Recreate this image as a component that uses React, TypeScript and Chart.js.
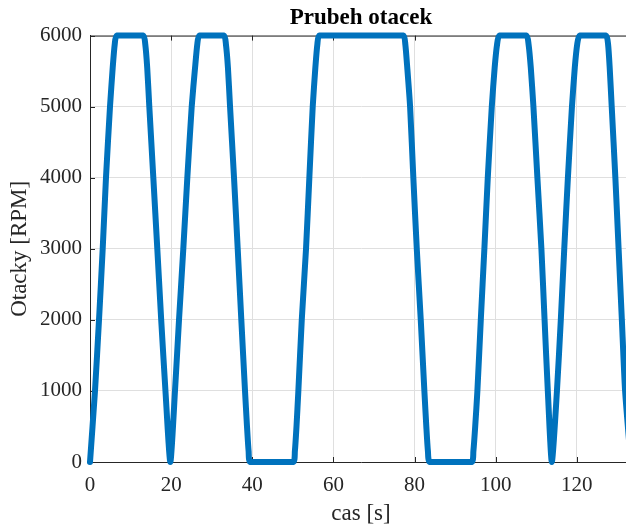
import React, { useEffect, useRef } from 'react';
import { Chart, registerables } from 'chart.js';

Chart.register(...registerables);

const timeS = [
  0, 1.23, 2.22, 3.13, 3.94, 4.93, 5.6, 6.1, 6.58,
  13.14, 13.62, 14.1, 14.62, 15.61, 16.59, 17.55, 18.6, 19.8,
  20.95, 21.94, 23.0, 23.99, 25.07, 25.9, 26.45, 26.95,
  33.04, 33.5, 34.0, 34.52, 35.5, 36.41, 37.3, 38.21, 38.7, 39.1, 39.5,
  50.1, 50.5, 50.9, 51.36, 52.2, 53.25, 54.07, 54.9, 55.55, 56.05, 56.53,
  77.24, 77.72, 78.2, 78.9, 79.7, 80.55, 81.53, 82.42, 82.9, 83.3, 83.75,
  94.1, 94.5, 94.95, 95.49, 96.33, 97.21, 98.05, 99.04, 99.75, 100.35, 100.9,
  107.6, 108.1, 108.65, 109.3, 110.28, 111.27, 112.05, 112.85, 113.84,
  115.1, 116.05, 116.9, 117.8, 118.8, 119.5, 120.1, 120.7,
  127.2, 127.7, 128.1, 128.6, 129.5, 130.3, 131.1, 131.9, 133.3,
];
const rpm = [
  0, 1000, 2000, 3000, 4000, 5000, 5550, 5880, 6000,
  6000, 5880, 5550, 5000, 4000, 3000, 2000, 1000, 0,
  1000, 2000, 3000, 4000, 5000, 5550, 5880, 6000,
  6000, 5880, 5550, 5000, 4000, 3000, 2000, 1000, 500, 150, 0,
  0, 150, 500, 1000, 2000, 3000, 4000, 5000, 5550, 5880, 6000,
  6000, 5880, 5550, 5000, 4000, 3000, 2000, 1000, 500, 150, 0,
  0, 150, 500, 1000, 2000, 3000, 4000, 5000, 5550, 5880, 6000,
  6000, 5880, 5550, 5000, 4000, 3000, 2000, 1000, 0,
  1000, 2000, 3000, 4000, 5000, 5550, 5880, 6000,
  6000, 5880, 5550, 5000, 4000, 3000, 2000, 1000, 0,
];
const xTicks = [0, 20, 40, 60, 80, 100, 120];
const yTicks = [0, 1000, 2000, 3000, 4000, 5000, 6000];
const titleText = 'Prubeh otacek';
const xLabel = 'cas [s]';
const yLabel = 'Otacky [RPM]';

const AXIS = '#262626';
const GRID = '#dfdfdf';
const LINE = '#0072BD';
const FONT = "'Liberation Serif', 'Times New Roman', serif";

const boxPlugin = {
  id: 'matlabBox',
  beforeDatasetsDraw(chart: any) {
    const { ctx, chartArea, scales } = chart;
    const { left, right, top, bottom } = chartArea;
    ctx.save();
    ctx.strokeStyle = AXIS;
    ctx.lineWidth = 1;
    ctx.beginPath();
    ctx.moveTo(left, top + 0.5);
    ctx.lineTo(right, top + 0.5);
    const tl = 5;
    for (const v of xTicks) {
      const px = Math.round(scales.x.getPixelForValue(v)) + 0.5;
      ctx.moveTo(px, bottom);
      ctx.lineTo(px, bottom - tl);
      ctx.moveTo(px, top);
      ctx.lineTo(px, top + tl);
    }
    for (const v of yTicks) {
      const py = Math.round(scales.y.getPixelForValue(v)) + 0.5;
      ctx.moveTo(left, py);
      ctx.lineTo(left + tl, py);
    }
    ctx.stroke();
    ctx.restore();
  },
};

export default function App() {
  const ref = useRef<HTMLCanvasElement | null>(null);

  useEffect(() => {
    if (!ref.current) return;
    const points = timeS.map((t, i) => ({ x: t, y: rpm[i] }));
    const chart = new Chart(ref.current, {
      type: 'line',
      data: {
        datasets: [
          {
            data: points,
            borderColor: LINE,
            backgroundColor: LINE,
            borderWidth: 6,
            pointRadius: 0,
            tension: 0.2,
            borderJoinStyle: 'round',
            borderCapStyle: 'round',
            clip: 5,
          } as any,
        ],
      },
      options: {
        animation: false,
        responsive: false,
        maintainAspectRatio: false,
        layout: { padding: 0 },
        plugins: {
          legend: { display: false },
          tooltip: { enabled: false },
          title: {
            display: true,
            text: titleText,
            fullSize: false,
            color: '#000',
            font: { family: FONT, size: 23, weight: 'bold', lineHeight: 1.2 },
            padding: { top: 4, bottom: 4 },
          },
        },
        scales: {
          x: {
            type: 'linear',
            min: 0,
            max: 133.6,
            afterFit: (s: any) => {
              s.height = 63;
            },
            afterBuildTicks: (s: any) => {
              s.ticks = xTicks.map((v) => ({ value: v }));
            },
            grid: { color: GRID, drawTicks: false, lineWidth: 1 },
            border: { display: true, color: AXIS, width: 1 },
            ticks: {
              color: AXIS,
              padding: 11,
              maxRotation: 0,
              font: { family: FONT, size: 21, lineHeight: 1.2 },
              callback: (v: any) => String(v),
            },
            title: {
              display: true,
              text: xLabel,
              color: AXIS,
              font: { family: FONT, size: 23, lineHeight: 1.0 },
              padding: { top: 0, bottom: 0 },
            },
          },
          y: {
            type: 'linear',
            min: 0,
            max: 6000,
            afterFit: (s: any) => {
              s.width = 90;
            },
            afterBuildTicks: (s: any) => {
              s.ticks = yTicks.map((v) => ({ value: v }));
            },
            grid: { color: GRID, drawTicks: false, lineWidth: 1 },
            border: { display: true, color: AXIS, width: 1 },
            ticks: {
              color: AXIS,
              padding: 8,
              font: { family: FONT, size: 21, lineHeight: 1.2 },
              callback: (v: any) => String(v),
            },
            title: {
              display: true,
              text: yLabel,
              color: AXIS,
              font: { family: FONT, size: 23, lineHeight: 1.2 },
              padding: { top: 6, bottom: 0 },
            },
          },
        },
      },
      plugins: [boxPlugin],
    });
    return () => chart.destroy();
  }, []);

  return (
    <div
      style={{
        position: 'absolute',
        left: 0,
        top: 0,
        width: 626,
        height: 525,
        overflow: 'hidden',
        background: '#fff',
      }}
    >
      <canvas ref={ref} width={632} height={525} style={{ display: 'block' }} />
    </div>
  );
}
